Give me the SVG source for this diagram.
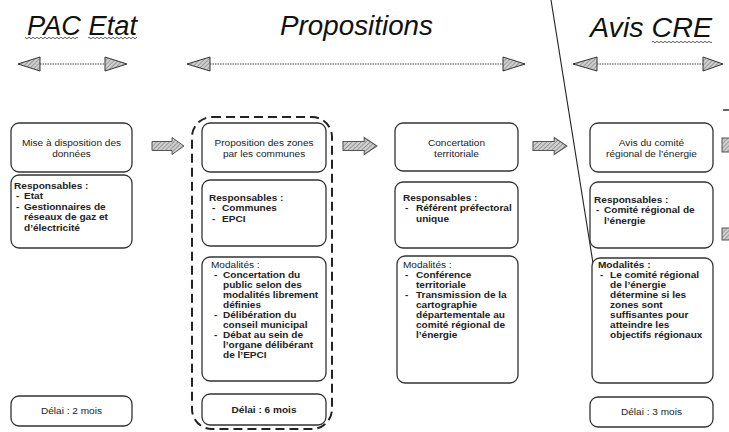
<svg xmlns="http://www.w3.org/2000/svg" width="729" height="432" viewBox="0 0 729 432">
<defs>
<pattern id="wave" patternUnits="userSpaceOnUse" width="4" height="4">
<path d="M0,2 Q1,0.5 2,2 T4,2" fill="none" stroke="#333" stroke-width="0.8"/>
</pattern>
<pattern id="hatch" patternUnits="userSpaceOnUse" width="3" height="3" patternTransform="rotate(45)">
<rect width="3" height="3" fill="#cfcfcf"/>
<line x1="0" y1="0" x2="0" y2="3" stroke="#777" stroke-width="1.2"/>
</pattern>
<path id="blk" d="M0,-4.5 H20 V-8.5 L32,0 L20,8.5 V4.5 H0 Z"/>
</defs>
<style>
.ttl{font-family:"Liberation Sans",Arial,sans-serif;font-style:italic;font-size:27px;fill:#111}
.box{fill:#fff;stroke:#333;stroke-width:1.3}
.t{font-family:"Liberation Sans",Arial,sans-serif;font-size:9px;fill:#222}
.c{text-anchor:middle}
.bb{font-weight:700}
.head{fill:url(#hatch);stroke:#333;stroke-width:1}
.dot{stroke:#444;stroke-width:1;stroke-dasharray:1.5 1}
.blk{fill:url(#hatch);stroke:#555;stroke-width:1}
</style>

<g id="titles">
<text class="ttl" x="27" y="35" textLength="110" lengthAdjust="spacingAndGlyphs">PAC Etat</text>
<rect x="25" y="37" width="53" height="4" fill="url(#wave)"/>
<rect x="88" y="37" width="49" height="4" fill="url(#wave)"/>
<text class="ttl" x="280" y="35" textLength="153" lengthAdjust="spacingAndGlyphs">Propositions</text>
<text class="ttl" x="590" y="37" textLength="122" lengthAdjust="spacingAndGlyphs">Avis CRE</text>
<rect x="652" y="40" width="60" height="4" fill="url(#wave)"/>
</g>

<g id="connectors">
<path class="head" d="M18,64 L40,57 L40,71 Z"/>
<line class="dot" x1="40" y1="64" x2="105" y2="64"/>
<path class="head" d="M105,57 L127,64 L105,71 Z"/>
<path class="head" d="M187,64 L210,57 L210,71 Z"/>
<line class="dot" x1="210" y1="64" x2="503" y2="64"/>
<path class="head" d="M503,57 L525,64 L503,71 Z"/>
<path class="head" d="M573,64 L597,57 L597,71 Z"/>
<line class="dot" x1="597" y1="64" x2="703" y2="64"/>
<path class="head" d="M703,57 L723,64 L703,71 Z"/>
<use href="#blk" class="blk" transform="translate(152,146)"/>
<use href="#blk" class="blk" transform="translate(343,146) scale(1.06,1)"/>
<use href="#blk" class="blk" transform="translate(533,146) scale(1.06,1)"/>
<line x1="551" y1="0" x2="600" y2="307" stroke="#222" stroke-width="1.1"/>
<path class="head" d="M593,307 L607,305 L602,320 Z"/>
<rect x="722" y="138" width="8" height="14" class="blk"/>
<rect x="722" y="228" width="8" height="12" class="blk"/>
<line x1="723" y1="110" x2="729" y2="110" stroke="#333" stroke-width="1.5"/>
</g>

<g id="col1">
<rect class="box" x="11" y="123" width="121" height="49" rx="8"/>
<rect class="box" x="11" y="175" width="121" height="73" rx="8"/>
<rect class="box" x="11" y="396" width="121" height="30" rx="8"/>
<g transform="translate(11,0) scale(1.12,1)">
<text class="t c" x="54" y="146">Mise à disposition des</text>
<text class="t c" x="54" y="157">données</text>
<text class="t bb" x="2.7" y="189">Responsables :</text>
<text class="t bb" x="4.5" y="199.5">-</text><text class="t bb" x="11.6" y="199.5">Etat</text>
<text class="t bb" x="4.5" y="210">-</text><text class="t bb" x="11.6" y="210">Gestionnaires de</text>
<text class="t bb" x="11.6" y="220.5">réseaux de gaz et</text>
<text class="t bb" x="11.6" y="231">d’électricité</text>
<text class="t c" x="54" y="414">Délai : 2 mois</text>
</g>
</g>

<g id="col2">
<rect x="192" y="117" width="140" height="312" rx="20" fill="none" stroke="#222" stroke-width="2" stroke-dasharray="9 5"/>
<rect class="box" x="202" y="123" width="124" height="49" rx="8"/>
<rect class="box" x="202" y="180" width="124" height="66" rx="8"/>
<rect class="box" x="202" y="257" width="124" height="124" rx="8"/>
<rect class="box" x="202" y="394" width="124" height="31" rx="8"/>
<g transform="translate(202,0) scale(1.12,1)">
<text class="t c" x="55.4" y="146">Proposition des zones</text>
<text class="t c" x="55.4" y="157">par les communes</text>
<text class="t bb" x="6.25" y="201">Responsables :</text>
<text class="t bb" x="8.9" y="211.5">-</text><text class="t bb" x="17.9" y="211.5">Communes</text>
<text class="t bb" x="8.9" y="222">-</text><text class="t bb" x="17.9" y="222">EPCI</text>
<text class="t" x="8" y="268">Modalités :</text>
<text class="t bb" x="10.7" y="278">-</text><text class="t bb" x="18.75" y="278">Concertation du</text>
<text class="t bb" x="18.75" y="288">public selon des</text>
<text class="t bb" x="18.75" y="298">modalités librement</text>
<text class="t bb" x="18.75" y="308">définies</text>
<text class="t bb" x="10.7" y="318">-</text><text class="t bb" x="18.75" y="318">Délibération du</text>
<text class="t bb" x="18.75" y="328">conseil municipal</text>
<text class="t bb" x="10.7" y="338">-</text><text class="t bb" x="18.75" y="338">Débat au sein de</text>
<text class="t bb" x="18.75" y="348">l’organe délibérant</text>
<text class="t bb" x="18.75" y="358">de l’EPCI</text>
<text class="t c bb" x="55.4" y="413">Délai : 6 mois</text>
</g>
</g>

<g id="col3">
<rect class="box" x="395" y="123" width="123" height="48" rx="8"/>
<rect class="box" x="395" y="182" width="123" height="66" rx="8"/>
<rect class="box" x="397" y="256" width="121" height="127" rx="8"/>
<g transform="translate(395,0) scale(1.12,1)">
<text class="t c" x="54.9" y="146">Concertation</text>
<text class="t c" x="54.9" y="157">territoriale</text>
<text class="t bb" x="7.1" y="201">Responsables :</text>
<text class="t bb" x="8.9" y="211.5">-</text><text class="t bb" x="18.75" y="211.5">Référent préfectoral</text>
<text class="t bb" x="18.75" y="222">unique</text>
<text class="t" x="7.1" y="268">Modalités :</text>
<text class="t bb" x="8.9" y="278">-</text><text class="t bb" x="18.75" y="278">Conférence</text>
<text class="t bb" x="18.75" y="288">territoriale</text>
<text class="t bb" x="8.9" y="298">-</text><text class="t bb" x="18.75" y="298">Transmission de la</text>
<text class="t bb" x="18.75" y="308">cartographie</text>
<text class="t bb" x="18.75" y="318">départementale au</text>
<text class="t bb" x="18.75" y="328">comité régional de</text>
<text class="t bb" x="18.75" y="338">l’énergie</text>
</g>
</g>

<g id="col4">
<rect class="box" x="590" y="123" width="123" height="49" rx="8"/>
<rect class="box" x="590" y="182" width="123" height="66" rx="8"/>
<rect class="box" x="592" y="258" width="121" height="125" rx="8"/>
<rect class="box" x="590" y="397" width="123" height="30" rx="8"/>
<g transform="translate(590,0) scale(1.12,1)">
<text class="t c" x="54.9" y="146">Avis du comité</text>
<text class="t c" x="54.9" y="157">régional de l’énergie</text>
<text class="t bb" x="3.6" y="203">Responsables :</text>
<text class="t bb" x="5.4" y="213.5">-</text><text class="t bb" x="12.5" y="213.5">Comité régional de</text>
<text class="t bb" x="12.5" y="224">l’énergie</text>
<text class="t bb" x="7.1" y="268">Modalités :</text>
<text class="t bb" x="8.9" y="278">-</text><text class="t bb" x="17.9" y="278">Le comité régional</text>
<text class="t bb" x="17.9" y="288">de l’énergie</text>
<text class="t bb" x="17.9" y="298">détermine si les</text>
<text class="t bb" x="17.9" y="308">zones sont</text>
<text class="t bb" x="17.9" y="318">suffisantes pour</text>
<text class="t bb" x="17.9" y="328">atteindre les</text>
<text class="t bb" x="17.9" y="338">objectifs régionaux</text>
<text class="t c" x="54.9" y="415">Délai : 3 mois</text>
</g>
</g>
</svg>
